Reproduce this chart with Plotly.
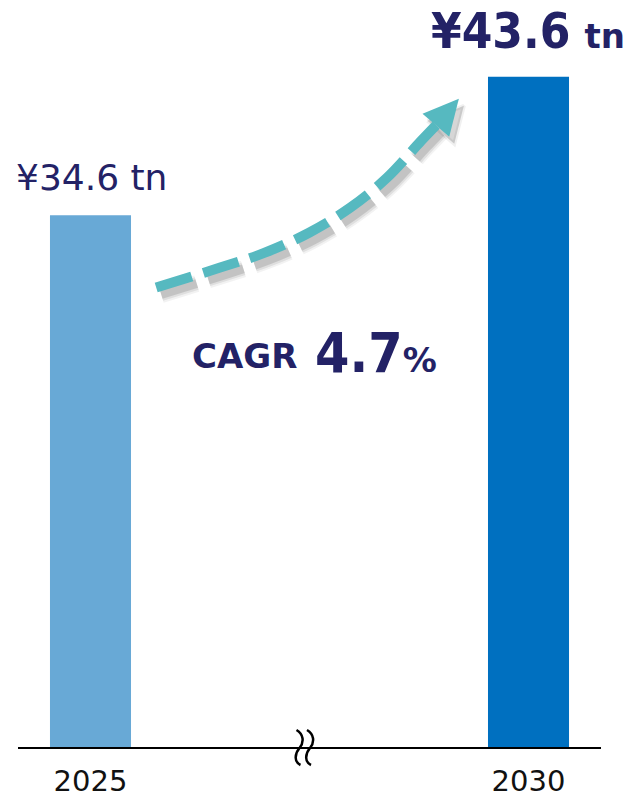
import plotly.graph_objects as go

# ---------------- data ----------------
years = ["2025", "2030"]
values = [34.6, 43.6]
value_texts = ["¥34.6", "¥43.6"]
unit_text = "tn"
cagr_label = "CAGR"
cagr_value = "4.7"
bar_colors = ["#68a9d6", "#0070c0"]

# ---------------- layout constants ----------------
W, H = 629, 799
ML, MR, MT, MB = 18, 28, 0, 52
PW, PH = W - ML - MR, H - MT - MB
XR = [-0.1655, 1.1655]
YMAX = 48.6
NAVY = "#232266"
TEAL = "#56b9c0"


def px_x(px):  # pixel -> paper x
    return (px - ML) / PW


def px_y(py):  # pixel -> paper y
    return (H - MB - py) / PH


# decorative growth arrow, in data units (x: category index, y: value)
arrow_x = [0.150, 0.296, 0.398, 0.499, 0.593, 0.677, 0.755, 0.789]
arrow_y = [29.89, 31.19, 32.16, 33.46, 35.09, 37.04, 39.44, 40.45]
head_x = [0.758, 0.841, 0.819, 0.758]
head_y = [41.20, 42.17, 39.70, 41.20]

fig = go.Figure()
fig.add_bar(x=[0, 1], y=values, width=0.185,
            marker=dict(color=bar_colors, line_width=0), hoverinfo="skip")

# soft shadow of the arrow
sdx, sdy = 5 / 438, -7 / 15.39
for w, c in [(17, "rgba(0,0,0,0.05)"), (13, "rgba(0,0,0,0.08)"), (9, "rgba(0,0,0,0.12)")]:
    fig.add_scatter(x=[v + sdx for v in arrow_x], y=[v + sdy for v in arrow_y],
                    mode="lines", hoverinfo="skip",
                    line=dict(color=c, width=w, shape="spline", dash="37px,12px"))
fig.add_scatter(x=[v + sdx for v in head_x], y=[v + sdy for v in head_y],
                mode="lines", fill="toself", fillcolor="rgba(0,0,0,0.16)",
                line=dict(width=4, color="rgba(0,0,0,0.06)"), hoverinfo="skip")
# arrow
fig.add_scatter(x=arrow_x, y=arrow_y, mode="lines", hoverinfo="skip",
                line=dict(color=TEAL, width=10, shape="spline", dash="37px,12px"))
fig.add_scatter(x=head_x, y=head_y, mode="lines", fill="toself", fillcolor=TEAL,
                line=dict(width=0, color=TEAL), hoverinfo="skip")

annotations = [
    dict(x=0, y=values[0], xref="x", yref="y", yanchor="middle", yshift=38,
         xshift=1, showarrow=False,
         text=f"{value_texts[0]} {unit_text}",
         font=dict(family="DejaVu Sans", size=36, color=NAVY)),
    dict(x=1, y=values[1], xref="x", yref="y", yanchor="middle", yshift=45,
         xshift=-1, showarrow=False,
         text=(f"<b>{value_texts[1]}</b> "
               f"<span style=\"font-size:34px;font-family:DejaVu Sans\"><b>{unit_text}</b></span>"),
         font=dict(family="DejaVu Sans Condensed, DejaVu Sans", size=49, color=NAVY)),
    dict(x=px_x(244), y=px_y(356), xref="paper", yref="paper", xanchor="center",
         yanchor="middle", showarrow=False, text=f"<b>{cagr_label}</b>",
         font=dict(family="DejaVu Sans", size=34, color=NAVY)),
    dict(x=px_x(376), y=px_y(353), xref="paper", yref="paper", xanchor="center",
         yanchor="middle", showarrow=False,
         text=(f"<b>{cagr_value}</b>"
               f"<span style=\"font-size:34px;font-family:DejaVu Sans\"><b>%</b></span>"),
         font=dict(family="DejaVu Sans Condensed, DejaVu Sans", size=55, color=NAVY)),
]


def squiggle(x0):
    pts = [(x0, 730), (x0 + 7, 734), (x0 + 8, 742), (x0 + 3, 748),
           (x0 - 2, 754), (x0 - 2.5, 762), (x0 + 4, 765)]
    p = [f"{px_x(a):.5f},{px_y(b):.5f}" for a, b in pts]
    return f"M {p[0]} C {p[1]} {p[2]} {p[3]} C {p[4]} {p[5]} {p[6]}"


shapes = [dict(type="path", xref="paper", yref="paper", path=squiggle(x0),
               line=dict(color="#000000", width=2.5)) for x0 in (296.5, 307)]

fig.update_layout(
    width=W, height=H,
    margin=dict(l=ML, r=MR, t=MT, b=MB, pad=0, autoexpand=False),
    paper_bgcolor="white", plot_bgcolor="white",
    showlegend=False,
    annotations=annotations,
    shapes=shapes,
    xaxis=dict(range=XR, showline=True, linecolor="#000000", linewidth=2,
               tickvals=[0, 1], ticktext=years, ticks="", showgrid=False,
               zeroline=False, fixedrange=True, ticklabelstandoff=7,
               automargin=False,
               tickfont=dict(family="DejaVu Sans", size=29, color="#111111")),
    yaxis=dict(range=[0, YMAX], visible=False, fixedrange=True, automargin=False),
)

fig.write_html("out.html", config={"displayModeBar": False})
